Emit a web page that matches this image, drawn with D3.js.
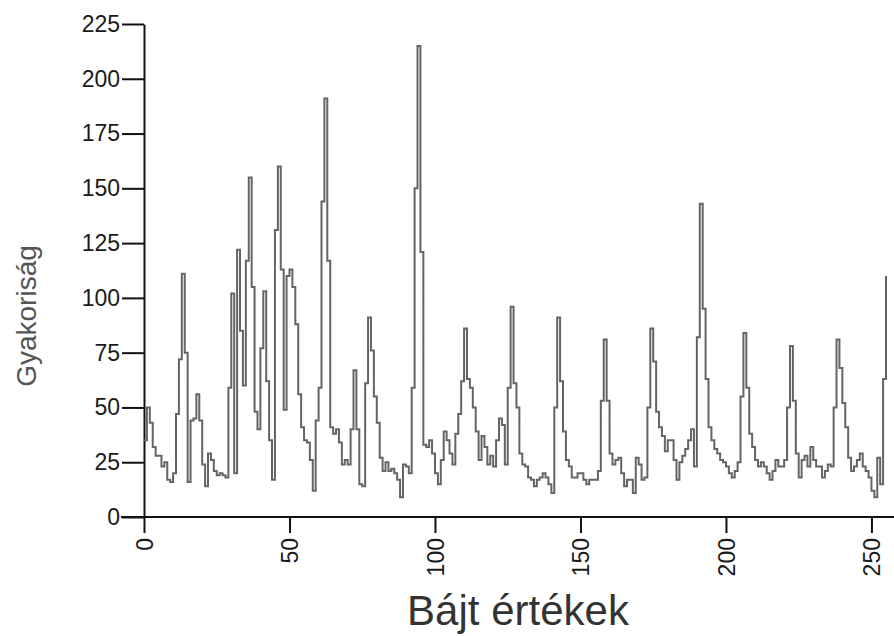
<!DOCTYPE html>
<html>
<head>
<meta charset="utf-8">
<script src="https://cdn.jsdelivr.net/npm/d3@7"></script>
<style>
  html, body { margin: 0; padding: 0; background: #ffffff; }
  svg { display: block; }
</style>
</head>
<body>
<svg id="chart" width="894" height="636"></svg>
<script>
// Byte values 0..255 (categories)
const byteValues = d3.range(256);

// Frequency of each byte value
const frequency = [
  35,50,43,32,28,28,23,25,17,16,20,47,72,111,75,16,
  44,45,56,44,24,14,29,26,21,19,20,19,18,59,102,20,
  122,85,60,117,155,105,48,40,77,103,62,35,17,131,160,113,
  49,110,113,105,88,56,41,35,34,26,12,44,59,144,191,117,
  41,38,40,34,24,26,24,40,67,40,15,14,61,91,76,55,
  43,27,21,25,21,22,20,17,9,24,23,20,59,150,215,121,
  33,32,35,29,20,15,26,39,35,29,24,38,47,62,86,63,
  59,50,39,26,37,32,24,28,23,35,45,42,24,59,96,61,
  50,29,24,23,18,17,14,17,18,20,18,15,11,50,91,62,
  39,26,23,18,18,20,20,17,15,17,17,17,21,53,81,53,
  29,24,26,27,20,14,17,17,11,27,24,17,18,50,86,71,
  48,41,37,30,35,35,26,17,25,28,31,35,40,23,82,143,
  95,63,41,35,31,29,26,25,23,20,18,21,25,55,84,59,
  38,32,26,23,25,23,20,17,21,26,23,23,26,50,78,53,
  29,18,26,28,23,32,26,23,23,18,21,24,23,50,81,68,
  52,41,27,21,23,26,29,23,21,18,12,9,27,15,63,110
];

const xTickValues = [0, 50, 100, 150, 200, 250];
const yTickValues = [0, 25, 50, 75, 100, 125, 150, 175, 200, 225];
const xTitle = "Bájt értékek";
const yTitle = "Gyakoriság";

const svg = d3.select("#chart");
const mLeft = 144, mRight = 886, mTop = 24, mBottom = 517;

const x = d3.scaleLinear().domain([0, 255]).range([mLeft, mRight]);
const y = d3.scaleLinear().domain([0, 225]).range([mBottom, mTop]);

const font = "'Liberation Sans', Arial, sans-serif";

// Y axis
const yAxis = svg.append("g")
  .attr("transform", `translate(${mLeft},0)`)
  .call(d3.axisLeft(y).tickValues(yTickValues).tickSize(22).tickPadding(2).tickSizeOuter(0));
yAxis.select(".domain").attr("stroke", "#111").attr("stroke-width", 2);
yAxis.selectAll(".tick line").attr("stroke", "#111").attr("stroke-width", 2);
yAxis.selectAll(".tick text")
  .attr("font-family", font).attr("font-size", 23).attr("fill", "#1a1a1a");

// X axis
const xAxis = svg.append("g")
  .attr("transform", `translate(0,${mBottom})`)
  .call(d3.axisBottom(x).tickValues(xTickValues).tickSize(16).tickSizeOuter(0));
xAxis.select(".domain").attr("stroke", "#111").attr("stroke-width", 2)
  .attr("d", `M${mLeft - 23},0H894`);
xAxis.selectAll(".tick line").attr("stroke", "#111").attr("stroke-width", 2);
xAxis.selectAll(".tick text")
  .attr("font-family", font).attr("font-size", 23).attr("fill", "#1a1a1a")
  .attr("transform", "rotate(-90)")
  .attr("text-anchor", "end")
  .attr("dy", "0.35em")
  .attr("x", -21)
  .attr("y", 0);

// Line (step-like histogram line)
const line = d3.line()
  .x(d => x(d))
  .y(d => y(frequency[d]))
  .curve(d3.curveStepAfter);

svg.append("path")
  .datum(byteValues)
  .attr("d", line)
  .attr("fill", "none")
  .attr("stroke", "#646464")
  .attr("stroke-width", 2);

// Titles
svg.append("text")
  .attr("x", 518).attr("y", 625)
  .attr("text-anchor", "middle")
  .attr("font-family", font).attr("font-size", 42)
  .attr("fill", "#333")
  .text(xTitle);

svg.append("text")
  .attr("transform", "translate(36,316) rotate(-90)")
  .attr("text-anchor", "middle")
  .attr("font-family", font).attr("font-size", 28)
  .attr("fill", "#555")
  .text(yTitle);
</script>
</body>
</html>
